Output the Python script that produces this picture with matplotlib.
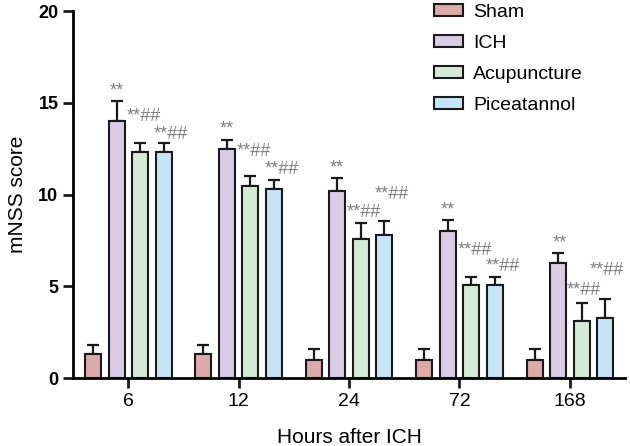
import numpy as np
import matplotlib.pyplot as plt

plt.rcParams['font.family'] = ['Liberation Sans', 'DejaVu Sans']

hours = ['6', '12', '24', '72', '168']
groups = ['Sham', 'ICH', 'Acupuncture', 'Piceatannol']
colors = ['#dcaaaa', '#d8cce6', '#d5ead5', '#c5e5f7']

sham = [1.3, 1.3, 1.0, 1.0, 1.0]
ich = [14.0, 12.5, 10.2, 8.0, 6.3]
acu = [12.3, 10.5, 7.6, 5.1, 3.1]
pic = [12.3, 10.3, 7.8, 5.1, 3.3]

sham_err = [0.5, 0.5, 0.6, 0.6, 0.6]
ich_err = [1.1, 0.5, 0.7, 0.6, 0.5]
acu_err = [0.5, 0.5, 0.85, 0.4, 1.0]
pic_err = [0.5, 0.5, 0.75, 0.4, 1.0]

marks = ['', '**', '**##', '**##']
# gap between error bar top and the significance label
mark_gap = [
    [0, 0.1, 1.0, 0.0],
    [0, 0.1, 0.9, 0.1],
    [0, 0.1, 0.1, 1.0],
    [0, 0.1, 1.0, 0.1],
    [0, 0.1, 0.2, 1.1],
]
mark_dx = [0, 0, 0.03, 0.07]

means = [sham, ich, acu, pic]
errs = [sham_err, ich_err, acu_err, pic_err]

fig = plt.figure(figsize=(6.3, 4.46), dpi=100)
ax = fig.add_axes([0.116, 0.152, 0.876, 0.823])

x = np.arange(len(hours))
pitch = 0.213
w = 0.145
for i in range(4):
    xi = x + (i - 1.5) * pitch
    ax.bar(xi, means[i], w, color=colors[i], edgecolor='#1a1a1a', linewidth=1.5,
           label=groups[i], zorder=2)
    ax.errorbar(xi, means[i], yerr=[np.zeros(5), errs[i]], fmt='none',
                ecolor='#1a1a1a', elinewidth=1.6, capsize=4, capthick=1.6, zorder=1)
    if marks[i]:
        for j in range(len(hours)):
            top = means[i][j] + errs[i][j] + mark_gap[j][i]
            dx = mark_dx[i] if j < len(hours) - 1 else 0.02
            ax.text(xi[j] + dx, top, marks[i], ha='center', va='bottom',
                    fontsize=13, color='#808080')

ax.set_xlim(-0.5, 4.5)
ax.set_ylim(0, 20)
ax.set_yticks([0, 5, 10, 15, 20])
ax.set_xticks(x)
ax.set_xticklabels(hours, fontsize=14)
for lab in ax.get_yticklabels():
    lab.set_fontsize(13)
    lab.set_fontweight('bold')
ax.spines['top'].set_visible(False)
ax.spines['right'].set_visible(False)
ax.spines['left'].set_linewidth(2)
ax.spines['bottom'].set_linewidth(2)
ax.tick_params(axis='both', width=2, length=7, color='#1a1a1a')
ax.set_ylabel('mNSS score', fontsize=15, labelpad=8)
ax.set_xlabel('Hours after ICH', fontsize=15, labelpad=13)

ax.legend(loc='upper left', bbox_to_anchor=(0.64, 1.042), frameon=False, fontsize=14,
          handlelength=1.5, handleheight=0.6, handletextpad=0.5,
          labelspacing=0.72, borderaxespad=0)

fig.savefig('out.png', dpi=100)
